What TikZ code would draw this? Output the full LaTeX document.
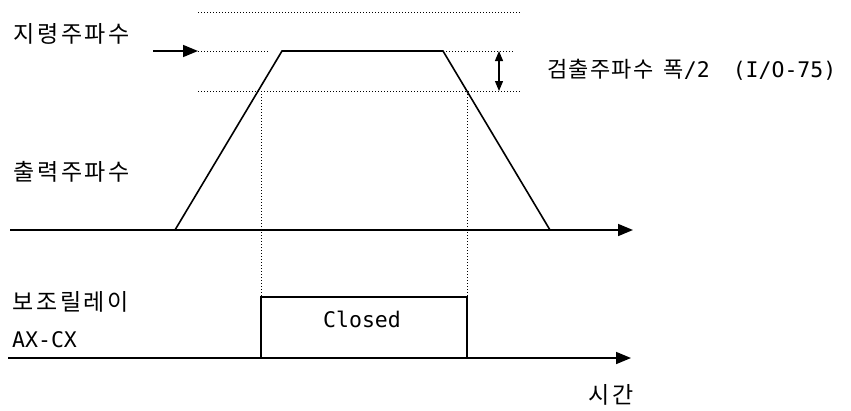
\documentclass[tikz,border=0pt]{standalone}
\usepackage{fontspec}
\setmainfont{DejaVu Sans Mono}
\newfontfamily\krfont[LetterSpace=12]{Noto Sans CJK KR}
\newfontfamily\krsmall[LetterSpace=6]{Noto Sans CJK KR}
\usetikzlibrary{arrows.meta}

\begin{document}
\begin{tikzpicture}[x=1pt, y=-1pt, line cap=butt, line join=miter,
  font=\fontsize{21.5}{24}\selectfont,
  >={Triangle[length=15pt,width=12pt]},
  solid line/.style={line width=1.6pt},
  guide/.style={line width=0.8pt, dash pattern=on 1pt off 2pt},
  label/.style={inner sep=0pt, anchor=west},
  kr/.style={font=\fontsize{23}{26}\krfont}]

\useasboundingbox (0,0) rectangle (851,410);

% Các mức tần số
\coordinate (Top) at (198,12);
\coordinate (Cmd) at (198,51);
\coordinate (Det) at (198,91);

% Đường chấm ngang
\draw[guide] (Top) -- (521,12);
\draw[guide] (Cmd) -- (268,51);
\draw[guide] (443,51) -- (513,51);
\draw[guide] (Det) -- (520,91);

% Mũi tên chỉ tần số lệnh
\coordinate (cmd_start) at (153,51);
\draw[solid line, ->] (cmd_start) -- (Cmd);

% Hình thang tần số ra
\coordinate (P1) at (175,230);
\coordinate (P2) at (282,51);
\coordinate (P3) at (443,51);
\coordinate (P4) at (550,230);
\draw[solid line] (P1) -- (P2) -- (P3) -- (P4);

% Trục thời gian trên
\coordinate (ax1_start) at (10,230);
\coordinate (ax1_end) at (633,230);
\draw[solid line, ->] (ax1_start) -- (ax1_end);

% Mũi tên hai chiều (độ rộng)
\coordinate (w_top) at (499,51);
\coordinate (w_bot) at (499,91);
\draw[line width=1.2pt, {Triangle[length=10pt,width=8pt]}-{Triangle[length=10pt,width=8pt]}] (w_top) -- (w_bot);

% Giao điểm với mức phát hiện
\coordinate (L) at (261,91);
\coordinate (R) at (467,91);
\draw[guide] (L) -- (261,297);
\draw[guide] (R) -- (467,297);

% Trục thời gian dưới và rơ-le
\coordinate (ax2_start) at (8,358);
\coordinate (ax2_end) at (631,358);
\draw[solid line, ->] (ax2_start) -- (ax2_end);
\draw[solid line] (261,358) -- (261,297) -- (467,297) -- (467,358);

% Nhãn
\node[label, kr] (cmdlbl) at (13,34) {지령주파수};
\node[label] (detlbl) at (547,70)
  {{\fontsize{22}{24}\krsmall 검출주파수\hspace{10pt}폭}/2\hspace{10pt} (I/O-75)};
\node[label, kr] (outlbl) at (13,172) {출력주파수};
\node[label, kr] (relay) at (12,302) {보조릴레이};
\node[label] (axcx) at (12,340) {AX-CX};
\node (closed) at (362,319) {Closed};
\node[label, kr] (time) at (588,395) {시간};

\end{tikzpicture}
\end{document}
